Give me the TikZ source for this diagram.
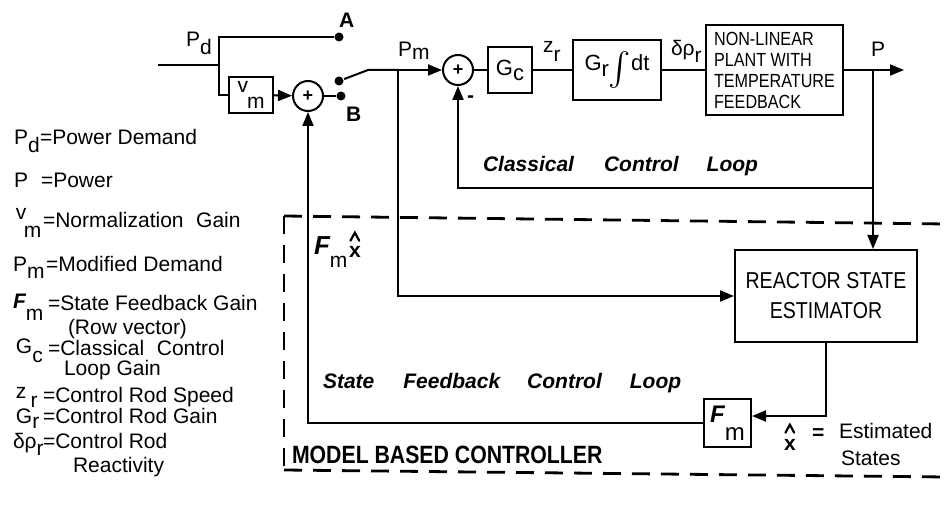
\documentclass[tikz,border=0pt]{standalone}
\usepackage{fontspec}
\usepackage{graphicx}
\setmainfont{Liberation Sans}
\newfontfamily\narrow[FakeStretch=0.85]{Liberation Sans}
\usetikzlibrary{arrows.meta}
\newcommand{\dn}[2]{\raisebox{-#1}{#2}}
\newcommand{\up}[2]{\raisebox{#1}{#2}}
\newcommand{\splus}{\bfseries\fontsize{9}{9}\selectfont +}
\begin{document}
\begin{tikzpicture}[x=0.5pt,y=-0.5pt,line width=1pt,
  >={Triangle[length=7pt,width=5.5pt]},
  font=\fontsize{10.5}{12}\selectfont,
  blk/.style={draw,line width=1pt,inner sep=0pt},
  sumc/.style={draw,circle,minimum size=15pt,inner sep=0pt,line width=1pt},
  dotn/.style={circle,fill,inner sep=0pt,minimum size=4.5pt},
  lbl/.style={inner sep=0pt,anchor=base west},
  loopl/.style={lbl,font=\fontsize{10.5}{12}\selectfont\bfseries\itshape},
  hatline/.style={line width=1.1pt,line cap=round,line join=miter},
  ctrl/.style={line width=1.4pt,dash pattern=on 9pt off 5.5pt}]
\fill[white] (0,0) rectangle (946,523);
\useasboundingbox (0,0) rectangle (946,523);

% ---------- blocks ----------
\node[blk,minimum width=22pt,minimum height=18pt] (vm) at (251,95)
  {\up{4pt}{v}\kern-0.5pt\dn{4pt}{m}};
\node[sumc] (s1) at (308,96) {\splus};
\node[dotn] (dA) at (339,37) {};
\node[dotn] (dB) at (341,96) {};
\node[dotn] (dS) at (339,81) {};
\coordinate (in) at (158,65);
\coordinate (j1) at (219,65);
\coordinate (swc) at (368,70);
\coordinate (pmj) at (398,70);
\node[sumc] (s2) at (458,70) {\splus};
\node[blk,minimum width=22pt,minimum height=23pt] (gc) at (510,70)
  {\fontsize{11}{12}\selectfont G\dn{2.5pt}{c}};
\node[blk,minimum width=44pt,minimum height=30pt] (gr) at (617,70)
  {\fontsize{11}{12}\selectfont G\dn{3pt}{r}\raisebox{-4.5pt}{\resizebox*{!}{18.5pt}{$\int$}}dt};
\node[blk,minimum width=68.5pt,minimum height=45pt,align=left,
  font=\narrow\fontsize{9.5}{10.5}\selectfont] (pl) at (774.5,70)
  {NON-LINEAR\\PLANT WITH\\TEMPERATURE\\FEEDBACK};
\coordinate (pj) at (873,70);
\coordinate (out) at (904,70);
\coordinate (fbc) at (873,188);
\node[blk,minimum width=91pt,minimum height=46pt,align=center,
  font=\narrow\fontsize{11.5}{15}\selectfont] (est) at (826,296)
  {REACTOR STATE\\ESTIMATOR};
\node[blk,minimum width=23.5pt,minimum height=24pt] (fm) at (727.5,423)
  {{\fontsize{12}{13}\selectfont\bfseries\itshape F}{\fontsize{12}{13}\selectfont\dn{9pt}{m}}};

% ---------- connectors ----------
\draw (in) -- (j1);
\draw (j1) |- (dA);
\draw (j1) |- (vm.west);
\draw[->] (vm) -- (s1);
\draw (s1) -- (dB);
\draw (dS) -- (swc) -- (pmj);
\draw[->] (pmj) -- (s2);
\draw (s2) -- (gc);
\draw (gc) -- (gr);
\draw (gr) -- (pl);
\draw[->] (pl.east) -- (out);
\draw[->] (pj) -- (pj |- est.north);
\draw[->] (fbc) -| (s2.south);
\draw[->] (pmj) |- (est.west);
\draw[->] (est.south) |- ([yshift=3.5pt]fm.east);
\draw[->] (fm.west) -| (s1.south);

% ---------- model based controller frame ----------
\draw[ctrl] (284,216) -- (946,224);
\draw[ctrl] (284,216) -- (284,470);
\draw[ctrl] (284,470) -- (946,477);

% ---------- diagram labels ----------
\node[lbl] (lPd) at (185,47) {P\dn{4pt}{d}};
\node[lbl,font=\fontsize{10.5}{12}\selectfont\bfseries] (lA) at (338,28) {A};
\node[lbl,font=\fontsize{10.5}{12}\selectfont\bfseries] (lB) at (345,122) {B};
\node[lbl] (lPm) at (397,57) {P\dn{1.5pt}{m}};
\node[lbl] (lzr) at (542,53) {z\dn{4.5pt}{r}};
\node[lbl] (ldr) at (670,56) {δρ\dn{3.5pt}{r}};
\node[lbl] (lP) at (870,57) {P};
\node[lbl,font=\fontsize{10.5}{12}\selectfont\bfseries] (lminus) at (466,103) {-};
\node[loopl] (lcl) at (482,172) {Classical\hspace{15pt}Control\hspace{14pt}Loop};
\node[loopl] (lsf) at (322,388) {State\hspace{14.5pt}Feedback\hspace{13.5pt}Control\hspace{14pt}Loop};
\node[lbl,font=\narrow\fontsize{12.5}{14}\selectfont\bfseries] (lmbc) at (291,463) {MODEL BASED CONTROLLER};
\node[lbl] (lfm) at (313,255) {{\fontsize{13}{14}\selectfont\bfseries\itshape F}\dn{6.5pt}{m}};
\node[lbl,font=\fontsize{10.5}{12}\selectfont\bfseries] (lfx) at (348,258) {x};
\draw[hatline] ([shift={(-2.2pt,2.6pt)}]lfx.north) -- ([shift={(0pt,6.6pt)}]lfx.north) -- ([shift={(2.2pt,2.6pt)}]lfx.north);
\node[lbl,font=\fontsize{10.5}{12}\selectfont\bfseries] (lxh) at (783,450) {x};
\draw[hatline] ([shift={(-2.2pt,2.6pt)}]lxh.north) -- ([shift={(0pt,6.6pt)}]lxh.north) -- ([shift={(2.2pt,2.6pt)}]lxh.north);
\node[lbl,font=\fontsize{10.5}{12}\selectfont\bfseries] (leq) at (811,439) {=};
\node[lbl] (lest) at (838,438) {Estimated};
\node[lbl] (lsts) at (840,465) {States};

% ---------- legend ----------
\node[lbl] (g1s) at (13,145) {P\dn{4pt}{d}};
\node[lbl] (g1t) at (39,145) {=Power Demand};
\node[lbl] (g2s) at (13,188) {P};
\node[lbl] (g2t) at (40,188) {=Power};
\node[lbl] (g3a) at (15,220) {v};
\node[lbl] (g3b) at (23,238) {m};
\node[lbl] (g3t) at (42,228) {=Normalization\hspace{0.6em}Gain};
\node[lbl] (g4s) at (12,272) {P\dn{3pt}{m}};
\node[lbl] (g4t) at (45,272) {=Modified Demand};
\node[lbl] (g5s) at (12,308) {{\bfseries\itshape F}\dn{6pt}{m}};
\node[lbl] (g5t) at (47,310) {=State Feedback Gain};
\node[lbl] (g5u) at (67,335) {(Row vector)};
\node[lbl] (g6s) at (15,353) {G\dn{4.5pt}{c}};
\node[lbl] (g6t) at (47,355) {=Classical\hspace{0.6em}Control};
\node[lbl] (g6u) at (63,375) {Loop Gain};
\node[lbl] (g7s) at (15,398) {z\kern2pt\dn{4.5pt}{r}};
\node[lbl] (g7t) at (42,402) {=Control Rod Speed};
\node[lbl] (g8s) at (15,423) {G\dn{2.5pt}{r}};
\node[lbl] (g8t) at (42,423) {=Control Rod Gain};
\node[lbl] (g9s) at (12,448) {δρ\dn{3.5pt}{r}};
\node[lbl] (g9t) at (42,448) {=Control Rod};
\node[lbl] (g9u) at (72,472) {Reactivity};
\end{tikzpicture}
\end{document}
